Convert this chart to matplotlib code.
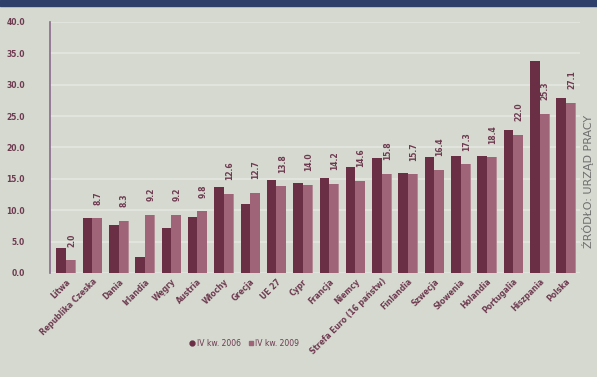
import numpy as np
import matplotlib
matplotlib.use("Agg")
import matplotlib.pyplot as plt
from matplotlib.patches import Rectangle
from matplotlib.lines import Line2D

# dane
kraje = ["Litwa", "Republika Czeska", "Dania", "Irlandia", "Węgry", "Austria",
         "Włochy", "Grecja", "UE 27", "Cypr", "Francja", "Niemcy",
         "Strefa Euro (16 państw)", "Finlandia", "Szwecja", "Słowenia",
         "Holandia", "Portugalia", "Hiszpania", "Polska"]
kw2006 = [4.0, 8.8, 7.6, 2.5, 7.1, 8.9, 13.7, 11.0, 14.8, 14.3,
          15.2, 16.8, 18.3, 16.0, 18.4, 18.7, 18.7, 22.7, 33.8, 27.9]
kw2009 = [2.0, 8.7, 8.3, 9.2, 9.2, 9.8, 12.6, 12.7, 13.8, 14.0,
          14.2, 14.6, 15.8, 15.7, 16.4, 17.3, 18.4, 22.0, 25.3, 27.1]
yticks = [0, 5, 10, 15, 20, 25, 30, 35, 40]

tlo = "#d5d9d0"
ciemny = "#6a2e45"
jasny = "#a06478"
napisy = "#6e3a50"

fig = plt.figure(figsize=(5.97, 3.77), dpi=100, facecolor=tlo)
ax = fig.add_axes([0.084, 0.276, 0.888, 0.666])
ax.set_facecolor(tlo)

x = np.arange(len(kraje))
w = 0.36
ax.bar(x - w / 2, kw2006, w, color=ciemny, zorder=3)
ax.bar(x + w / 2, kw2009, w, color=jasny, zorder=3)
# cien "3D" za drugim slupkiem
ax.bar(x + w / 2 + 0.14, kw2009, 0.12, color="#b48a97", zorder=2)

# etykiety wartosci (IV kw. 2009)
for i, v in enumerate(kw2009):
    ax.text(x[i] + w / 2 + 0.04, v + 2.2, "%.1f" % v, rotation=90,
            ha="center", va="bottom", fontsize=5.5, fontweight="bold",
            color=napisy, zorder=4)

ax.set_ylim(0, 40)
ax.set_xlim(-0.6, len(kraje) - 0.45)
ax.set_yticks(yticks)
ax.set_yticklabels(["%.1f" % t for t in yticks], fontsize=5.5,
                   fontweight="bold", color=napisy)
ax.tick_params(axis="y", length=0, pad=18)
ax.tick_params(axis="x", length=0, pad=3)
ax.grid(axis="y", color="#e4e6e0", linewidth=1.2, zorder=0)
for s in ["top", "right", "bottom"]:
    ax.spines[s].set_visible(False)
ax.spines["left"].set_color("#8a6a8c")
ax.spines["left"].set_linewidth(1.2)
ax.spines["left"].set_linestyle((0, (2, 1)))

ax.set_xticks(x)
ax.set_xticklabels(kraje, rotation=45, ha="right", rotation_mode="anchor",
                   fontsize=5.5, fontweight="bold", color=napisy)

# legenda
uchwyty = [Line2D([], [], marker="o", linestyle="", color=ciemny, markersize=3.5),
           Line2D([], [], marker="s", linestyle="", color=jasny, markersize=3.5)]
fig.legend(uchwyty, ["IV kw. 2006", "IV kw. 2009"], loc="center",
           bbox_to_anchor=(0.41, 0.09), ncol=2, frameon=False, fontsize=5.5,
           handlelength=0.6, columnspacing=1.0, handletextpad=0.3,
           labelcolor=napisy)

fig.text(0.985, 0.52, "ŹRÓDŁO: URZĄD PRACY", rotation=90, ha="center",
         va="center", fontsize=8, color="#6e6e6e")

# ciemny pasek u gory
fig.patches.append(Rectangle((0, 0.985), 1, 0.015, transform=fig.transFigure,
                             color="#2e3f6a", zorder=5))

plt.savefig("out.png", dpi=100, facecolor=tlo)
